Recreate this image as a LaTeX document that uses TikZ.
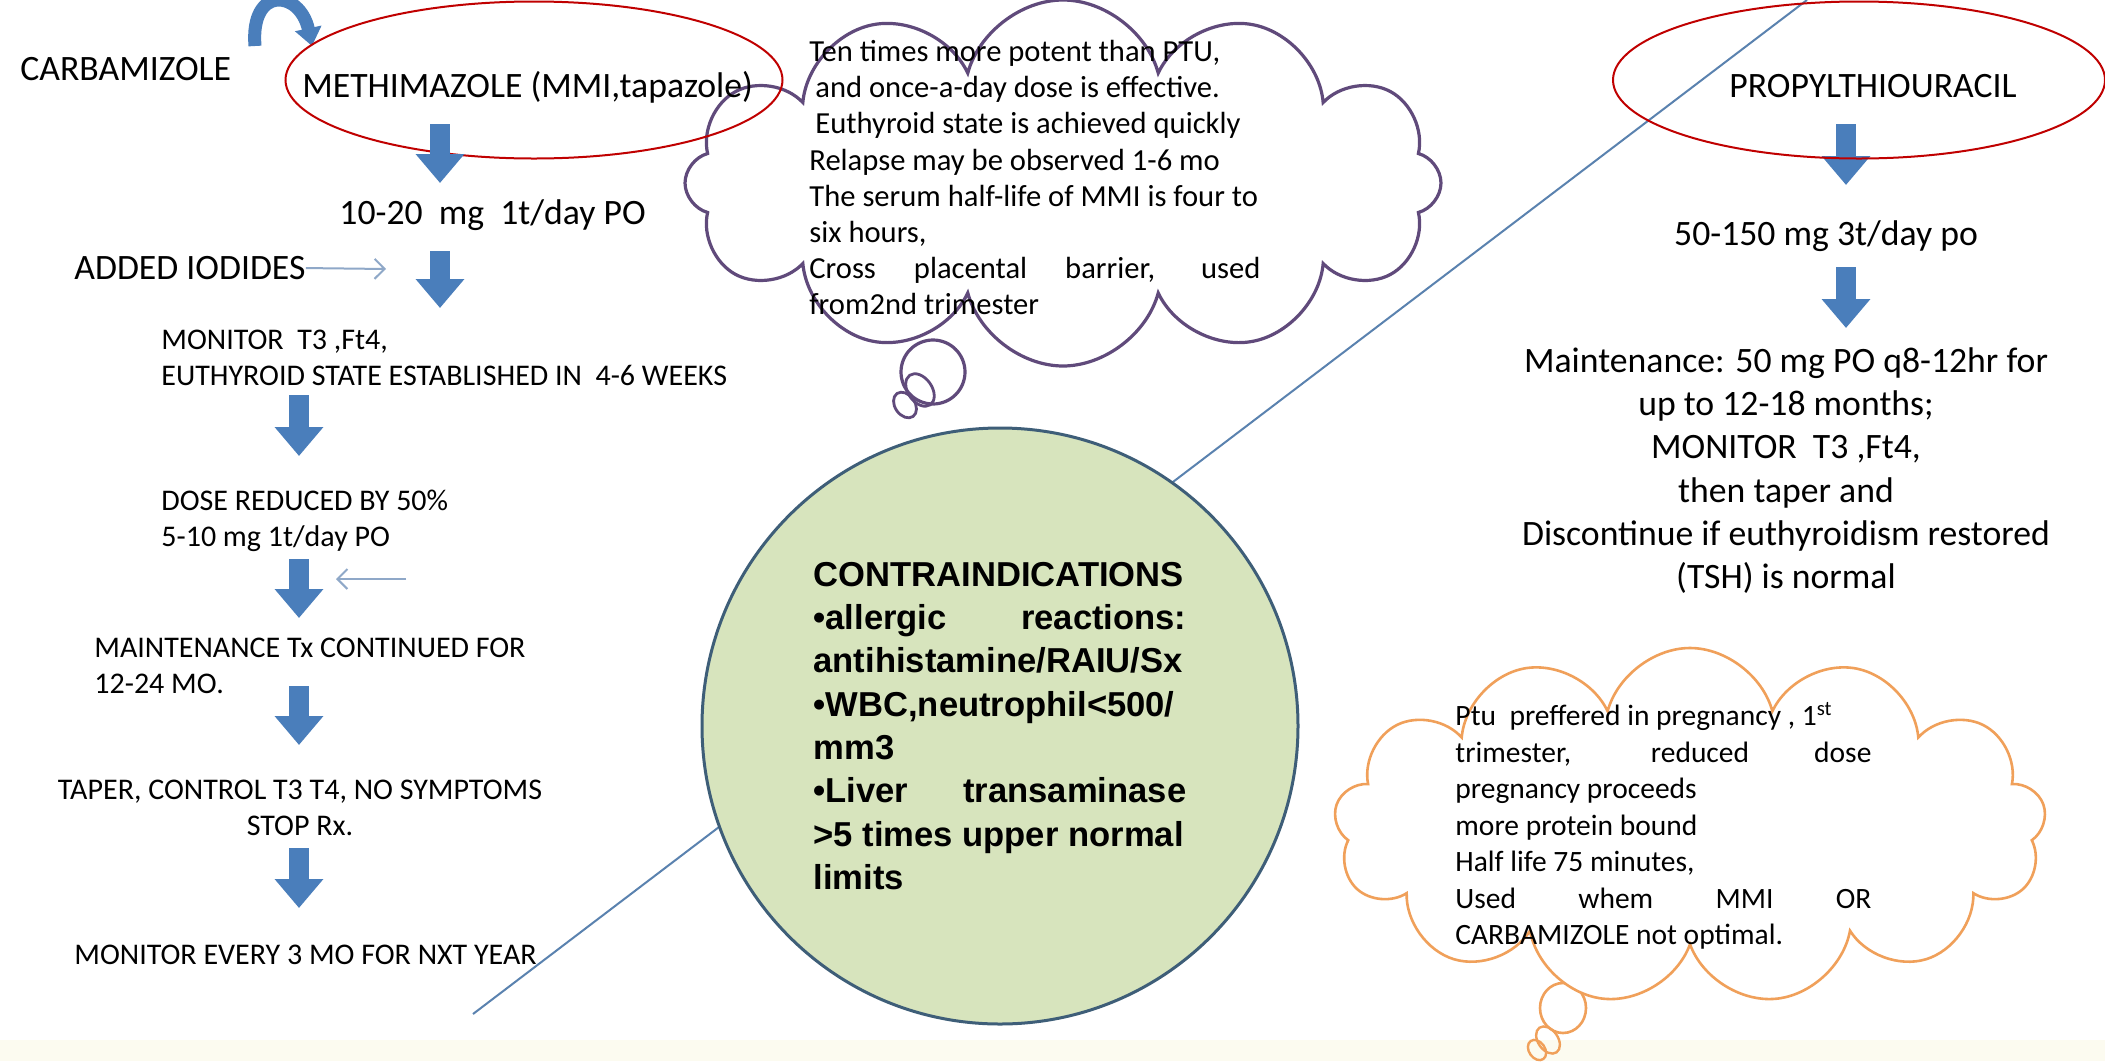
\documentclass[tikz,border=0pt]{standalone}
\usepackage{fontspec}
\setmainfont{Carlito}
\newfontfamily\arialfont{Liberation Sans}
\usetikzlibrary{arrows.meta,shapes.geometric,shapes.symbols}

\definecolor{arrowblue}{RGB}{74,126,187}
\definecolor{thinblue}{RGB}{143,168,200}
\definecolor{ringred}{RGB}{192,0,0}
\definecolor{cloudpurple}{RGB}{96,74,123}
\definecolor{cloudorange}{RGB}{240,160,90}
\definecolor{circlegreen}{RGB}{215,228,189}
\definecolor{circleedge}{RGB}{62,94,120}
\definecolor{divline}{RGB}{90,130,175}
\definecolor{stripcream}{RGB}{252,251,240}

\begin{document}
\begin{tikzpicture}[x=0.5pt,y=-0.5pt,
  big/.style={font=\fontsize{17.85}{21.6}\selectfont, inner sep=0pt},
  small/.style={font=\fontsize{15}{18.25}\selectfont, inner sep=0pt},
  ring/.style={ellipse, draw=ringred, line width=1pt, inner sep=0pt},
  blk/.style={arrowblue, line width=10pt, -{Triangle[width=23.5pt,length=14.5pt]}},
  thinarr/.style={thinblue, line width=1pt, -{Straight Barb[length=5pt,width=10pt]}},
  thought/.style={cloud, fill=white, inner sep=0pt, cloud ignores aspect},
  cloudtext/.style={inner sep=0pt, align=justify, anchor=base west}]
  \path[use as bounding box, fill=white] (0,0) rectangle (2105,1061);
  \fill[stripcream] (0,1040) rectangle (2105,1061);

  \coordinate (dl-a) at (473,1014);
  \coordinate (dl-b) at (1807,0);
  \draw[divline, line width=1pt] (dl-a) -- (dl-b);

  \node[big, anchor=base west] (carb) at (20,80.5) {CARBAMIZOLE};
  \coordinate (curl-a) at (255,46);
  \coordinate (curl-b) at (312,46);
  \draw[arrowblue, line width=6.5pt, -{Triangle[width=13pt,length=9pt]}]
    (curl-a) .. controls (250,-15) and (300,-10) .. (curl-b);

  \draw[cloudpurple, line width=1.6pt, fill=white] (933,372) circle (16pt);
  \node[thought, draw=cloudpurple, line width=1.6pt, cloud puffs=12,
    minimum width=378pt, minimum height=183pt] (mmicloud) at (1063,183) {};
  \draw[cloudpurple, line width=1.4pt, rotate around={35:(920,390)}] (920,390) ellipse (6pt and 9pt);
  \draw[cloudpurple, line width=1.4pt, rotate around={35:(905,405)}] (905,405) ellipse (5pt and 7pt);
  \node[cloudtext, font=\fontsize{15.3}{18.05}\selectfont, text width=225.5pt] (mmitext) at (809,61.7)
    {Ten times more potent than PTU,\\\hspace*{3pt}and once-a-day dose is effective.\\\hspace*{3pt}Euthyroid state is achieved quickly\\Relapse may be observed 1-6 mo\\The serum half-life of MMI is four to\\six hours,\\\makebox[\linewidth][s]{Cross placental barrier, used}\\from2nd trimester};

  \node[big, anchor=base west] (mmi) at (302,97.5) {METHIMAZOLE (MMI,tapazole)};
  \node[ring, minimum width=248.5pt, minimum height=78.5pt] (mmiring) at (534,80) {};
  \node[big, anchor=base west] (dose1) at (339,224.5) {10-20\ \ mg\ \ 1t/day PO};
  \node[big, anchor=base west] (iod) at (74,279.5) {ADDED IODIDES};
  \coordinate (iodtip) at (386,269);
  \draw[thinarr] (iod.east) -- (iodtip);
  \node[small, anchor=base west, align=left] (mon) at (161,385.7)
    {MONITOR\ \ T3 ,Ft4,\\EUTHYROID STATE ESTABLISHED IN\ \ 4-6 WEEKS};
  \node[small, anchor=base west, align=left] (halfdose) at (161,546.7)
    {DOSE REDUCED BY 50\%\\5-10 mg 1t/day PO};
  \coordinate (back-a) at (406,579);
  \coordinate (back-b) at (336,579);
  \draw[thinarr] (back-a) -- (back-b);
  \node[small, anchor=base west, align=left] (keep) at (94,693.7)
    {MAINTENANCE Tx CONTINUED FOR\\12-24 MO.};
  \node[small, anchor=base, align=center] (taper) at (300,835.7)
    {TAPER, CONTROL T3 T4, NO SYMPTOMS\\STOP Rx.};
  \node[small, anchor=base west] (follow) at (74,964.7) {MONITOR EVERY 3 MO FOR NXT YEAR};

  \foreach \n/\x/\ya/\yb in {a1/440/124/183, a2/440/251/308, a3/299/395/456, a4/299/559/618,
      a5/299/686/745, a6/299/848/908, b1/1846/124/185, b2/1846/267/328}{
    \coordinate (\n-top) at (\x,\ya);
    \coordinate (\n-tip) at (\x,\yb);
    \draw[blk] (\n-top) -- (\n-tip);
  }

  \node[circle, fill=circlegreen, draw=circleedge, line width=1.5pt, minimum size=298pt,
    inner sep=0pt, text width=186.5pt, align=justify,
    font=\arialfont\bfseries\fontsize{17.3}{21.65}\selectfont] (contra) at (1000,726)
    {CONTRAINDICATIONS\\\makebox[\linewidth][s]{•allergic reactions:}\\antihistamine/RAIU/Sx\\•WBC,neutrophil<500/\\mm3\\\makebox[\linewidth][s]{•Liver transaminase}\\>5 times upper normal\\limits};

  \node[big, anchor=base] (ptu) at (1873,97.5) {PROPYLTHIOURACIL};
  \node[ring, minimum width=246pt, minimum height=78.5pt] (ptuRing) at (1859,80) {};
  \node[big, anchor=base] (dose2) at (1826,245.5) {50-150 mg 3t/day po};
  \node[big, anchor=base, align=center] (plan) at (1786,588.5)
    {Maintenance: 50 mg PO q8-12hr for\\up to 12-18 months;\\MONITOR\ \ T3 ,Ft4,\\then taper and\\Discontinue if euthyroidism restored\\(TSH) is normal};

  \draw[cloudorange, line width=1.3pt, fill=white] (1563,1008) ellipse (11.5pt and 12.5pt);
  \node[thought, draw=cloudorange, line width=1.3pt, cloud puffs=13,
    minimum width=356pt, minimum height=178pt] (ptucloud) at (1690,826) {};
  \draw[cloudorange, line width=1.2pt, rotate around={35:(1548,1040)}] (1548,1040) ellipse (5pt and 7.5pt);
  \draw[cloudorange, line width=1.2pt, rotate around={35:(1537,1050)}] (1537,1050) ellipse (4pt and 5.5pt);
  \node[cloudtext, font=\fontsize{14.75}{18.25}\selectfont, text width=208pt] (ptutext) at (1455,725.7)
    {Ptu\ \ preffered in pregnancy , 1\textsuperscript{st}\\\makebox[\linewidth][s]{trimester, reduced dose}\\pregnancy proceeds\\more protein bound\\Half life 75 minutes,\\\makebox[\linewidth][s]{Used whem MMI OR}\\CARBAMIZOLE not optimal.};
\end{tikzpicture}
\end{document}
